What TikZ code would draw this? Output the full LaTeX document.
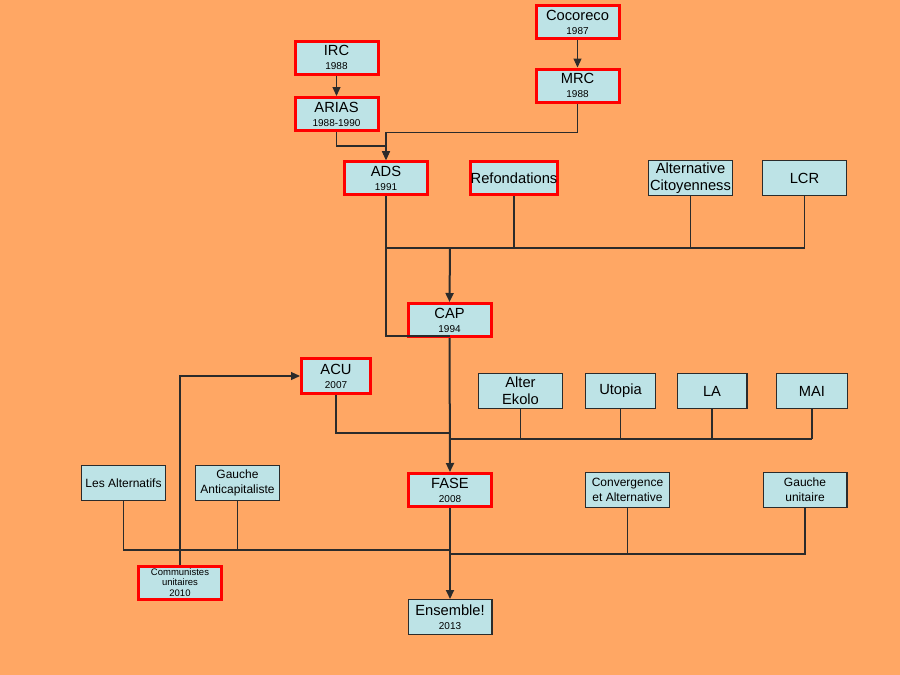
\documentclass[tikz,border=0pt]{standalone}
\usepackage{fontspec}
\setmainfont{Liberation Sans}
\usetikzlibrary{arrows.meta}
\definecolor{naranja}{HTML}{FFA764}
\definecolor{celeste}{HTML}{BDE3E6}
\definecolor{rojo}{HTML}{FF0000}
\definecolor{gris}{HTML}{2B2B2B}
\newcommand{\anio}[1]{{\fontsize{10}{11}\selectfont #1}}

\begin{document}
\begin{tikzpicture}[x=1pt, y=-1pt, >={Triangle[length=9pt,width=8pt]},
  caja/.style={draw=gris, line width=1.4pt, fill=celeste, inner sep=0pt,
    minimum width=83.6pt, minimum height=34.6pt, align=center,
    font=\fontsize{14.7}{17}\selectfont},
  roja/.style={caja, draw=rojo, line width=3pt, minimum width=83pt, minimum height=33pt},
  chica/.style={font=\fontsize{12}{15}\selectfont},
  linea/.style={draw=gris, line width=1.2pt},
  tronco/.style={draw=gris, line width=2pt}]

\fill [naranja] (0,0) rectangle (900,675);
\useasboundingbox (0,0) rectangle (900,675);

%nodes
\node [roja] (cocoreco) at (577.5,22) {Cocoreco\\[-3pt]\anio{1987}};
\node [roja] (mrc) at (577.5,85.5) {MRC\\[-3pt]\anio{1988}};
\node [roja] (irc) at (336.5,57.5) {IRC\\[-3pt]\anio{1988}};
\node [roja] (arias) at (336.5,114) {ARIAS\\[-3pt]\anio{1988-1990}};
\node [roja] (ads) at (386,178) {ADS\\[-3pt]\anio{1991}};
\node [roja] (refond) at (514,178) {Refondations};
\node [caja] (altcit) at (690.5,178) {Alternative\\Citoyenness};
\node [caja] (lcr) at (804.5,178) {LCR};
\node [roja] (cap) at (449.5,320) {CAP\\[-3pt]\anio{1994}};
\node [roja, minimum width=69pt, minimum height=35pt] (acu) at (336,376) {ACU\\[-3pt]\anio{2007}};
\node [caja] (alterekolo) at (520.5,391) {Alter\\Ekolo};
\node [caja, minimum width=69.6pt] (utopia) at (620.5,391) {Utopia};
\node [caja, minimum width=69.6pt] (la) at (712,391) {LA};
\node [caja, minimum width=70.6pt] (mai) at (812,391) {MAI};
\node [caja, chica] (lesalt) at (123.5,483) {Les Alternatifs};
\node [caja, chica] (gauchanti) at (237.5,483) {Gauche\\Anticapitaliste};
\node [roja] (fase) at (450,490) {FASE\\[-3pt]\anio{2008}};
\node [caja, chica] (converg) at (627.5,490) {Convergence\\et Alternative};
\node [caja, chica] (gauchuni) at (805,490) {Gauche\\unitaire};
\node [roja, font=\fontsize{9.5}{10.8}\selectfont] (communist) at (180,582.5) {Communistes\\unitaires\\2010};
\node [caja] (ensemble) at (450,617) {Ensemble!\\[-3pt]\anio{2013}};

%lineas
\coordinate (capbus) at (450,248);
\coordinate (acujoin) at (450,433);
\coordinate (fasebus) at (450,439);
\coordinate (izqbus) at (450,550);
\coordinate (derbus) at (450,554);

\draw [linea,->] (irc) -- (arias);
\draw [linea,->] (cocoreco) -- (mrc);
\draw [linea,->] (arias.south) -- ++(0,14) -| (ads.north);
\draw [linea,->] (mrc.south) -- ++(0,29) -| (ads.north);

\draw [linea] (ads.south) |- ([yshift=2pt]cap.south);
\draw [linea] (ads.south |- capbus) -- (lcr.south |- capbus);
\draw [linea] (refond.south) -- (refond.south |- capbus);
\draw [linea] (altcit.south) -- (altcit.south |- capbus);
\draw [linea] (lcr.south) -- (lcr.south |- capbus);
\draw [tronco,->] (capbus) -- (cap.north);

\draw [linea,->] (communist.north) |- (acu.west);
\draw [linea] (acu.south) |- (acujoin);
\draw [linea] (fasebus) -- (mai.south |- fasebus);
\draw [linea] (alterekolo.south) -- (alterekolo.south |- fasebus);
\draw [linea] (utopia.south) -- (utopia.south |- fasebus);
\draw [linea] (la.south) -- (la.south |- fasebus);
\draw [linea] (mai.south) -- (mai.south |- fasebus);
\draw [tronco,->] (cap.south) -- (fase.north);

\draw [linea] (lesalt.south) |- (izqbus);
\draw [linea] (gauchanti.south) -- (gauchanti.south |- izqbus);
\draw [linea] (gauchuni.south) |- (derbus);
\draw [linea] (converg.south) -- (converg.south |- derbus);
\draw [tronco,->] (fase.south) -- (ensemble.north);

\end{tikzpicture}
\end{document}
